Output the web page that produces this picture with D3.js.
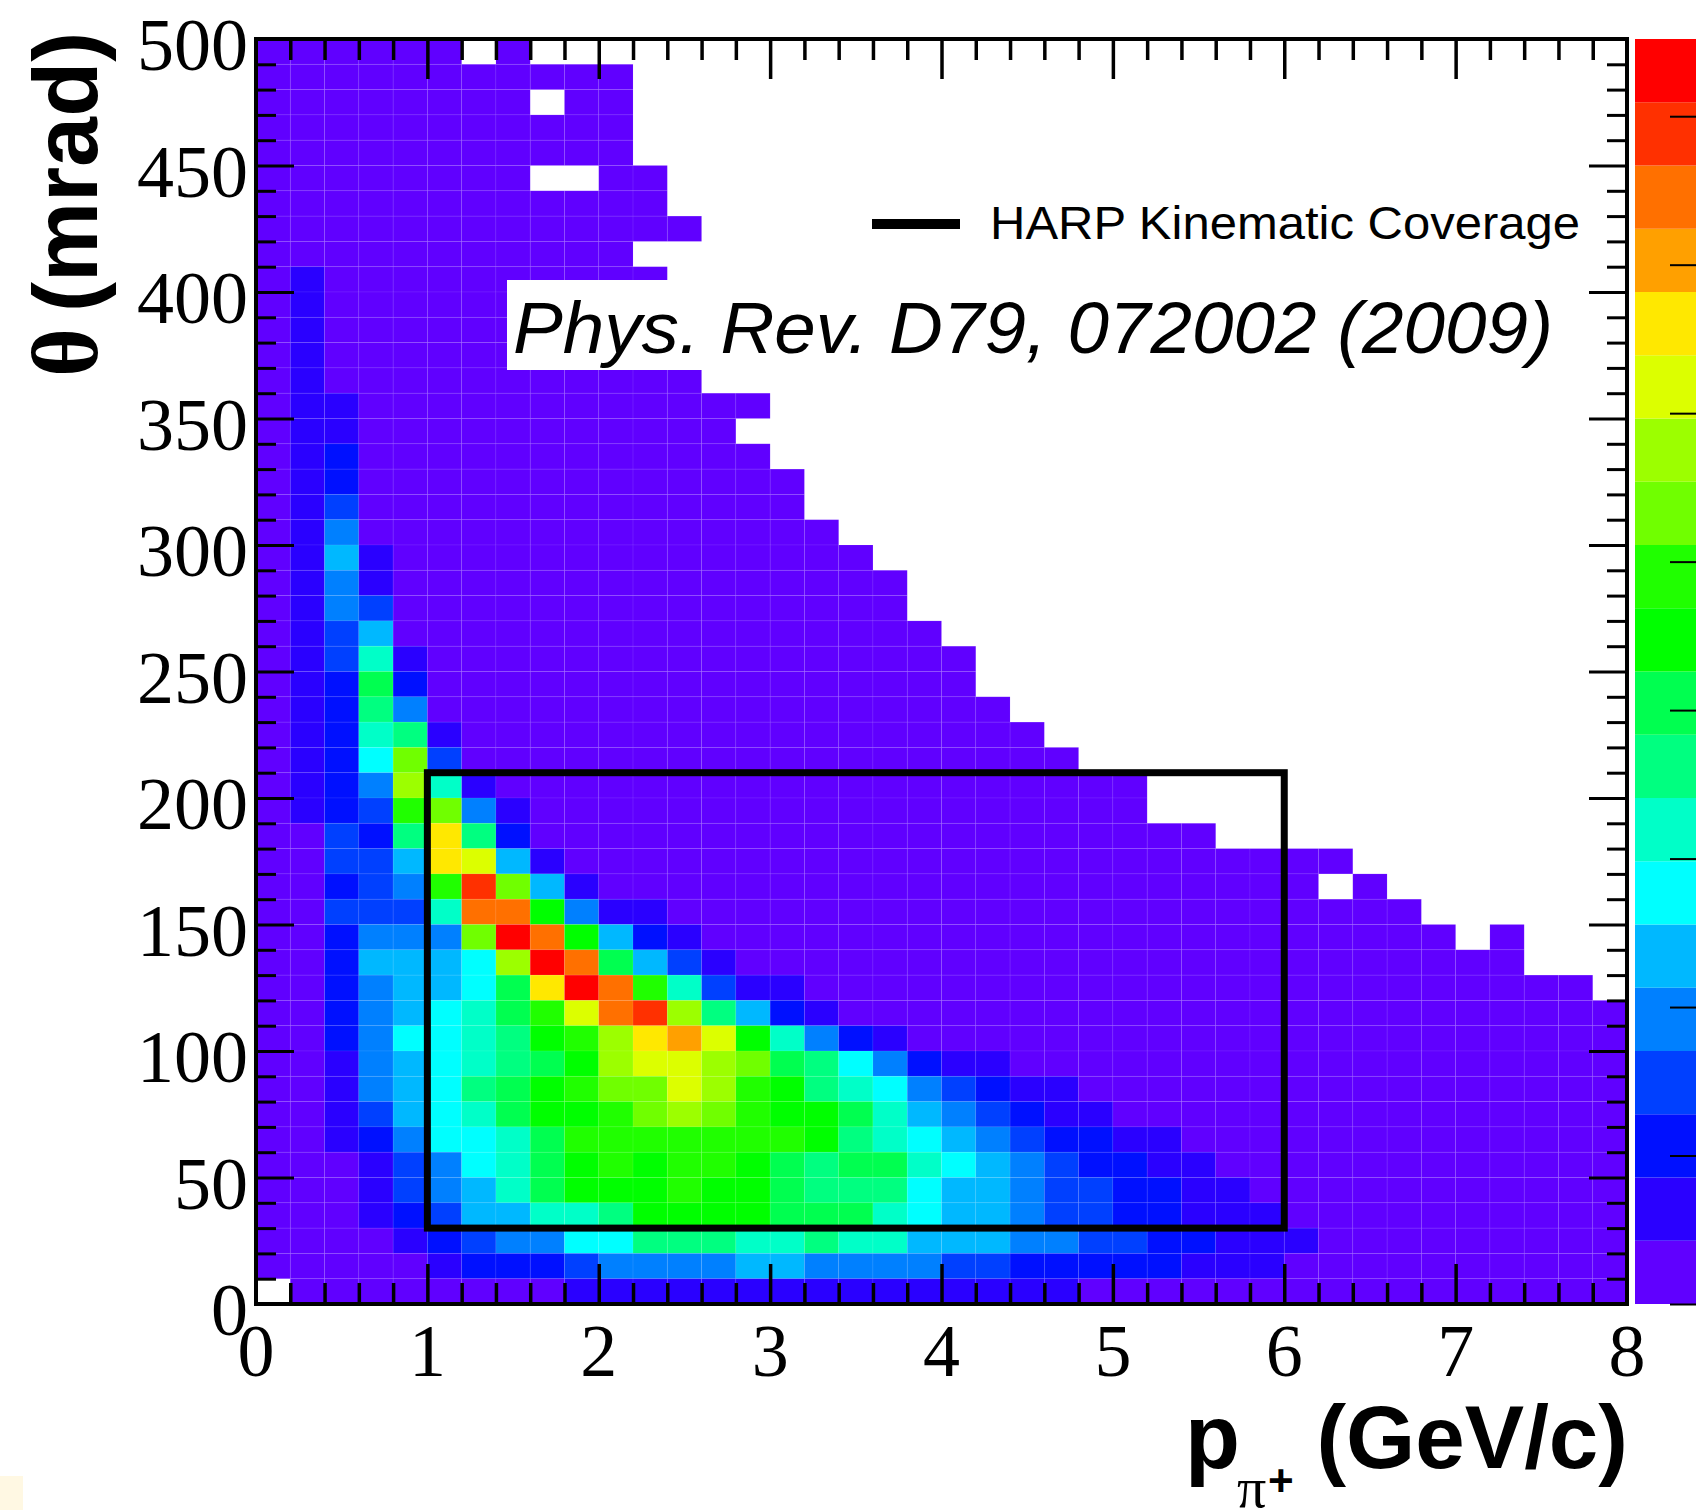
<!DOCTYPE html>
<html>
<head>
<meta charset="utf-8">
<script src="https://d3js.org/d3.v7.min.js"></script>
<style>
  html, body { margin: 0; padding: 0; background: #fff; }
  svg { display: block; }
  .axis path { display: none; }
  .axis line { stroke: #000; }
  text { fill: #000; }
</style>
</head>
<body>
<div id="my_dataviz"></div>
<script>

  // 20 colour levels of the palette, lowest first
  const palette = ["#6000ff", "#2a00ff", "#0010ff", "#0040ff", "#0080ff", "#00b8ff", "#00ffff", "#00ffc8", "#00ff80", "#00ff50",
    "#00ff00", "#20ff00", "#70ff00", "#9cff00", "#dcff00", "#ffe800", "#ffa000", "#ff7000", "#ff3000", "#ff0000"];

  // colour level per bin, one string per theta row (490-500 mrad first, base 20, "." = empty bin)
  // anything after the string is level 0 up to the row's last filled bin
  const rowLevels = [
    "000000.0", "0", "00000000.", "0", "0", "00000000..", "0", "0", "0", "01",
    "01", "01", "01", "01", "011", "011", "012", "012", "013", "014",
    "0151", "0141", "0143", "0135", "01371", "01292", "01284", "012781", "0126c3", "0124d71",
    "0123bc41", "00328f82", "00335fe51", "00234bic51".padEnd(31, "0") + ".0", "003337hha411",
    "002444cjha521".padEnd(35, "0") + ".0", "0025556djh9531", "00245569fjhb7311", "00245679behid8521", "00246678abdfgea7421",
    "001456789adeedc9864211", "00145689abccedba87643211", "00135679aabcdcbaa97543211", "001246679bbbbbbba8765432211",
    "000134679ababba9899765432211", "000134579aaabaa98886554332211", "00012355778aaaa999765543322111",
    "0000123446688877877555443322111", "000001222344445544443322222111", ".00000000111111111111111"
  ];
  const lastBin = [7, 10, 10, 10, 10, 11, 11, 12, 10, 11,
    12, 12, 12, 12, 14, 13, 14, 15, 15, 16,
    17, 18, 18, 19, 20, 20, 21, 22, 23, 25,
    25, 27, 31, 32, 33, 36, 36, 38, 39, 39,
    39, 39, 39, 39, 39, 39, 39, 39, 39, 39];

  const xMajor = [0, 1, 2, 3, 4, 5, 6, 7, 8];
  const yMajor = [0, 50, 100, 150, 200, 250, 300, 350, 400, 450, 500];
  const zTicks = [0, 1, 2, 3, 4, 5, 6, 7, 8];
  const harpBox = { pMin: 1, pMax: 6, thetaMin: 30, thetaMax: 210 };

  const binP = 0.2, binTheta = 10;

  const width = 1696, height = 1510;
  const plotLeft = 256, plotRight = 1627, plotTop = 39, plotBottom = 1304;

  const svg = d3.select("#my_dataviz").append("svg")
    .attr("width", width)
    .attr("height", height);

  const x = d3.scaleLinear().domain([0, 8]).range([plotLeft, plotRight]);
  const y = d3.scaleLinear().domain([0, 500]).range([plotBottom, plotTop]);
  const color = d3.scaleOrdinal().domain(d3.range(20)).range(palette);

  // stray pale swatch in the bottom corner of the reference
  svg.append("rect").attr("x", 0).attr("y", 1476).attr("width", 23).attr("height", 34).attr("fill", "#fff8e3");

  // flatten the rows to cells
  let cells = [];
  rowLevels.forEach(function (row, i) {
    const filled = row.padEnd(lastBin[i] + 1, "0");
    for (let c = 0; c < filled.length; c++) {
      if (filled[c] === ".") continue;
      cells.push({ p: c * binP, theta: (49 - i) * binTheta, level: parseInt(filled[c], 20) });
    }
  });

  svg.append("g").selectAll("rect")
    .data(cells)
    .enter()
    .append("rect")
    .attr("x", d => x(d.p))
    .attr("y", d => y(d.theta + binTheta))
    .attr("width", d => x(d.p + binP) - x(d.p))
    .attr("height", d => y(d.theta) - y(d.theta + binTheta))
    .attr("fill", d => color(d.level))
    .attr("stroke", "#fff")
    .attr("stroke-opacity", 0.08)
    .attr("stroke-width", 0.8);

  // ticks: all four sides, pointing inward
  const xMinor = d3.range(0, 41).map(d => d * binP).filter(d => Math.abs(d - Math.round(d)) > 1e-6);
  const yMinor = d3.range(0, 51).map(d => d * binTheta).filter(d => d % 50 !== 0);

  function addTicks(axisFn, scale, values, size, translate, strokeWidth) {
    svg.append("g")
      .attr("class", "axis")
      .attr("transform", translate)
      .call(axisFn(scale).tickValues(values).tickSize(size).tickFormat(""))
      .selectAll("line").attr("stroke-width", strokeWidth);
  }
  addTicks(d3.axisBottom, x, xMajor.slice(1, -1), -40, "translate(0," + plotBottom + ")", 3.5);
  addTicks(d3.axisBottom, x, xMinor, -21, "translate(0," + plotBottom + ")", 3.5);
  addTicks(d3.axisTop, x, xMajor.slice(1, -1), -40, "translate(0," + plotTop + ")", 3.5);
  addTicks(d3.axisTop, x, xMinor, -21, "translate(0," + plotTop + ")", 3.5);
  addTicks(d3.axisLeft, y, yMajor.slice(1, -1), -38, "translate(" + plotLeft + ",0)", 3);
  addTicks(d3.axisLeft, y, yMinor, -20, "translate(" + plotLeft + ",0)", 3);
  addTicks(d3.axisRight, y, yMajor.slice(1, -1), -38, "translate(" + plotRight + ",0)", 3);
  addTicks(d3.axisRight, y, yMinor, -20, "translate(" + plotRight + ",0)", 3);

  svg.append("rect")
    .attr("x", plotLeft).attr("y", plotTop)
    .attr("width", plotRight - plotLeft).attr("height", plotBottom - plotTop)
    .attr("fill", "none").attr("stroke", "#000").attr("stroke-width", 4);

  // tick labels
  svg.append("g").selectAll("text")
    .data(xMajor)
    .enter().append("text")
    .attr("x", d => x(d))
    .attr("y", 1376)
    .attr("text-anchor", "middle")
    .style("font-family", "'Liberation Serif'")
    .style("font-size", "74px")
    .text(d => d);

  svg.append("g").selectAll("text")
    .data(yMajor)
    .enter().append("text")
    .attr("x", 248)
    .attr("y", d => y(d) + 31)
    .attr("text-anchor", "end")
    .style("font-family", "'Liberation Serif'")
    .style("font-size", "74px")
    .text(d => d);

  // HARP coverage box
  svg.append("rect")
    .attr("x", x(harpBox.pMin))
    .attr("y", y(harpBox.thetaMax))
    .attr("width", x(harpBox.pMax) - x(harpBox.pMin))
    .attr("height", y(harpBox.thetaMin) - y(harpBox.thetaMax))
    .attr("fill", "none").attr("stroke", "#000").attr("stroke-width", 7);

  // colour bar
  const zBand = d3.scaleLinear().domain([0, 20]).range([plotBottom, plotTop]);
  svg.append("g").selectAll("rect")
    .data(d3.range(20))
    .enter().append("rect")
    .attr("x", 1635)
    .attr("y", d => zBand(d + 1))
    .attr("width", 61)
    .attr("height", d => zBand(d) - zBand(d + 1))
    .attr("fill", d => color(d));

  const zScale = d3.scaleLinear().domain([0, 8.52]).range([plotBottom, plotTop]);
  svg.append("g")
    .attr("class", "axis")
    .attr("transform", "translate(1696,0)")
    .call(d3.axisLeft(zScale).tickValues(zTicks).tickSize(26).tickFormat(""))
    .selectAll("line").attr("stroke-width", 2);

  // legend
  svg.append("line")
    .attr("x1", 872).attr("x2", 960).attr("y1", 224).attr("y2", 224)
    .attr("stroke", "#000").attr("stroke-width", 10);
  svg.append("text")
    .attr("x", 990).attr("y", 239)
    .attr("textLength", 590).attr("lengthAdjust", "spacingAndGlyphs")
    .style("font-family", "'Liberation Sans'")
    .style("font-size", "47px")
    .text("HARP Kinematic Coverage");

  // reference label on a white patch
  svg.append("rect").attr("x", 507).attr("y", 280).attr("width", 1050).attr("height", 90).attr("fill", "#fff");
  svg.append("text")
    .attr("x", 513).attr("y", 353)
    .attr("textLength", 1040).attr("lengthAdjust", "spacingAndGlyphs")
    .style("font-family", "'Liberation Sans'")
    .style("font-style", "italic")
    .style("font-size", "72px")
    .text("Phys. Rev. D79, 072002 (2009)");

  // axis titles
  const yTitle = svg.append("text")
    .attr("transform", "translate(97,377)rotate(-90)")
    .style("font-family", "'Liberation Sans'")
    .style("font-weight", "bold")
    .style("font-size", "90px");
  yTitle.append("tspan").style("font-family", "'Liberation Serif'").style("font-size", "94px").text("θ");
  yTitle.append("tspan").attr("dx", 16).text("(mrad)");

  svg.append("text")
    .attr("x", 1185).attr("y", 1468)
    .style("font-family", "'Liberation Sans'")
    .style("font-weight", "bold")
    .style("font-size", "90px")
    .text("p");
  svg.append("text")
    .attr("x", 1237).attr("y", 1507)
    .style("font-family", "'Liberation Serif'")
    .style("font-size", "58px")
    .text("π");
  svg.append("text")
    .attr("x", 1268).attr("y", 1496)
    .style("font-family", "'Liberation Sans'")
    .style("font-weight", "bold")
    .style("font-size", "44px")
    .text("+");
  svg.append("text")
    .attr("x", 1628).attr("y", 1468)
    .attr("text-anchor", "end")
    .style("font-family", "'Liberation Sans'")
    .style("font-weight", "bold")
    .style("font-size", "89px")
    .text("(GeV/c)");

</script>
</body>
</html>
